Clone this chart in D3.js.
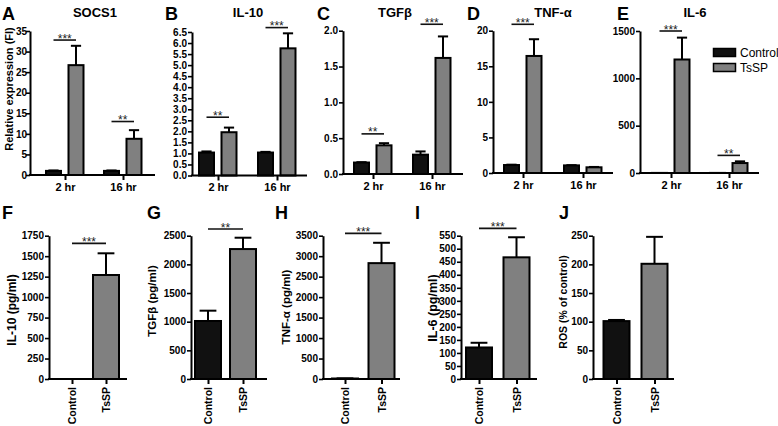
<!DOCTYPE html>
<html><head><meta charset="utf-8">
<script src="https://cdn.jsdelivr.net/npm/d3@7"></script>
<style>
body{margin:0;background:#fff;}
svg{display:block;}
</style></head><body>
<svg id="chart" width="778" height="426"></svg>
<script>
// ---------- DATA ----------
const timeCategories = ["2 hr", "16 hr"];
const groups = ["Control", "TsSP"];

// A  SOCS1 (relative expression)
const socs1Control = [1.0, 1.0];
const socs1ControlSem = [0.1, 0.1];
const socs1TsSP = [26.7, 8.8];
const socs1TsSPSem = [4.7, 2.1];
const socs1Sig = ["***", "**"];
const socs1SigLevel = [32.8, 13.0];
const socs1Ticks = [0, 5, 10, 15, 20, 25, 30, 35];

// B  IL-10 (relative expression)
const il10Control = [1.04, 1.04];
const il10ControlSem = [0.05, 0.03];
const il10TsSP = [1.96, 5.76];
const il10TsSPSem = [0.21, 0.68];
const il10Sig = ["**", "***"];
const il10SigLevel = [2.64, 6.7];
const il10Ticks = [0, 0.5, 1, 1.5, 2, 2.5, 3, 3.5, 4, 4.5, 5, 5.5, 6, 6.5];

// C  TGFβ (relative expression)
const tgfControl = [0.16, 0.27];
const tgfControlSem = [0.005, 0.045];
const tgfTsSP = [0.40, 1.62];
const tgfTsSPSem = [0.03, 0.30];
const tgfSig = ["**", "***"];
const tgfSigLevel = [0.56, 2.09];
const tgfTicks = [0, 0.5, 1.0, 1.5, 2.0];

// D  TNF-α (relative expression)
const tnfControl = [1.12, 1.07];
const tnfControlSem = [0.05, 0.03];
const tnfTsSP = [16.45, 0.8];
const tnfTsSPSem = [2.35, 0.05];
const tnfSig = ["***", null];
const tnfSigLevel = [20.9, null];
const tnfTicks = [0, 5, 10, 15, 20];

// E  IL-6 (relative expression)
const il6Control = [1, 1];
const il6ControlSem = [0, 0];
const il6TsSP = [1199, 105];
const il6TsSPSem = [231, 18];
const il6Sig = ["***", "**"];
const il6SigLevel = [1500, 186];
const il6Ticks = [0, 500, 1000, 1500];

// F  IL-10 (pg/ml)
const il10pgValues = [0, 1270];
const il10pgSem = [0, 265];
const il10pgSig = "***";
const il10pgSigLevel = 1656;
const il10pgTicks = [0, 250, 500, 750, 1000, 1250, 1500, 1750];

// G  TGFβ (pg/ml)
const tgfpgValues = [1012, 2267];
const tgfpgSem = [180, 198];
const tgfpgSig = "**";
const tgfpgSigLevel = 2616;
const tgfpgTicks = [0, 500, 1000, 1500, 2000, 2500];

// H  TNF-α (pg/ml)
const tnfpgValues = [12, 2830];
const tnfpgSem = [3, 497];
const tnfpgSig = "***";
const tnfpgSigLevel = 3557;
const tnfpgTicks = [0, 500, 1000, 1500, 2000, 2500, 3000, 3500];

// I  IL-6 (pg/ml)
const il6pgValues = [121, 467];
const il6pgSem = [18, 77];
const il6pgSig = "***";
const il6pgSigLevel = 578;
const il6pgTicks = [0, 50, 100, 150, 200, 250, 300, 350, 400, 450, 500, 550];

// J  ROS (% of control)
const rosValues = [101, 201];
const rosSem = [2, 47];
const rosSig = null;
const rosSigLevel = null;
const rosTicks = [0, 50, 100, 150, 200, 250];

// ---------- DRAWING ----------
const FONT = '"Liberation Sans", Arial, Helvetica, sans-serif';
const fillOf = {Control: "#111111", TsSP: "#808080"};
const svg = d3.select("#chart").attr("font-family", FONT);

function styleYAxis(ax) {
  ax.select(".domain").attr("stroke", "#000").attr("stroke-width", 2);
  ax.selectAll(".tick line").attr("stroke", "#000").attr("stroke-width", 1.6);
  ax.selectAll(".tick text").attr("font-size", 10).attr("font-weight", "bold")
    .attr("font-family", FONT).attr("fill", "#000");
}

function drawBars(g, rows, cx, bw, y) {
  const cap = bw * 0.6;
  const withErr = rows.filter(d => d.e > 0);
  g.selectAll(".err").data(withErr).join("line")
    .attr("x1", d => cx(d)).attr("x2", d => cx(d))
    .attr("y1", d => y(d.v)).attr("y2", d => y(d.v + d.e))
    .attr("stroke", "#000").attr("stroke-width", 2);
  g.selectAll(".cap").data(withErr).join("line")
    .attr("x1", d => cx(d) - cap / 2).attr("x2", d => cx(d) + cap / 2)
    .attr("y1", d => y(d.v + d.e)).attr("y2", d => y(d.v + d.e))
    .attr("stroke", "#000").attr("stroke-width", 2);
  g.selectAll(".bar").data(rows).join("rect")
    .attr("x", d => cx(d) - bw / 2 + 1).attr("width", bw - 2)
    .attr("y", d => y(d.v)).attr("height", d => Math.max(0, y(0) - y(d.v)))
    .attr("fill", d => fillOf[d.grp]).attr("stroke", "#000").attr("stroke-width", 2);
}

function drawSig(g, x1, x2, yy, label) {
  g.append("line").attr("x1", x1).attr("x2", x2).attr("y1", yy).attr("y2", yy)
    .attr("stroke", "#111").attr("stroke-width", 1.6);
  g.append("text").attr("x", (x1 + x2) / 2).attr("y", yy + 2.5)
    .attr("text-anchor", "middle").attr("font-size", 12).attr("fill", "#222").text(label);
}

function panelLetter(x, y, s) {
  svg.append("text").attr("x", x).attr("y", y).attr("font-size", 18)
    .attr("font-weight", "bold").attr("fill", "#000").text(s);
}

function yLabel(x, yc, s, size) {
  svg.append("text").attr("transform", `translate(${x},${yc}) rotate(-90)`)
    .attr("text-anchor", "middle").attr("dominant-baseline", "central")
    .attr("font-size", size).attr("font-weight", "bold").attr("fill", "#000").text(s);
}

function drawTop(p) {
  const g = svg.append("g");
  const y = d3.scaleLinear().domain([0, d3.max(p.ticks)]).range([p.bottom, p.top]);
  const x = d3.scalePoint().domain(timeCategories).range(p.cats);
  const off = d3.scalePoint().domain(groups).range([-11.5, 11]);
  const bw = 17;
  const rows = timeCategories.flatMap((c, i) => [
    {c, grp: "Control", v: p.control[i], e: p.controlSem[i]},
    {c, grp: "TsSP", v: p.tssp[i], e: p.tsspSem[i]}
  ]);
  drawBars(g, rows, d => x(d.c) + off(d.grp), bw, y);
  timeCategories.forEach((c, i) => {
    if (p.sig[i]) drawSig(g, x(c) + off("Control"), x(c) + off("TsSP"), y(p.sigLevel[i]), p.sig[i]);
  });
  const ya = g.append("g").attr("transform", `translate(${p.left},0)`)
    .call(d3.axisLeft(y).tickValues(p.ticks).tickFormat(p.fmt).tickSize(4).tickSizeOuter(0)
      .tickPadding(p.tickPad === undefined ? 1 : p.tickPad));
  styleYAxis(ya);
  const xa = g.append("g").attr("transform", `translate(0,${y(0)})`)
    .call(d3.axisBottom(x).tickSize(5).tickSizeOuter(0).tickPadding(3));
  xa.select(".domain").remove();
  xa.selectAll(".tick line").attr("stroke", "#000").attr("stroke-width", 2);
  xa.selectAll(".tick text").attr("font-size", 11).attr("font-weight", "bold")
    .attr("font-family", FONT).attr("fill", "#000");
  g.append("line").attr("x1", p.left - 1).attr("x2", p.xEnd).attr("y1", y(0)).attr("y2", y(0))
    .attr("stroke", "#000").attr("stroke-width", 2);
  svg.append("text").attr("x", p.titleX).attr("y", 17).attr("text-anchor", "middle")
    .attr("font-size", 13).attr("font-weight", "bold").attr("fill", "#000").text(p.title);
  panelLetter(p.letterX, 20, p.letter);
}

function drawBottom(p) {
  const g = svg.append("g");
  const y = d3.scaleLinear().domain([0, d3.max(p.ticks)]).range([379, 235.7]);
  const x = d3.scalePoint().domain(groups).range(p.cats);
  const bw = 28;
  const rows = groups.map((grp, i) => ({grp, v: p.values[i], e: p.sem[i]}));
  drawBars(g, rows, d => x(d.grp), bw, y);
  if (p.sig) drawSig(g, x("Control"), x("TsSP"), y(p.sigLevel), p.sig);
  const ya = g.append("g").attr("transform", `translate(${p.left},0)`)
    .call(d3.axisLeft(y).tickValues(p.ticks).tickFormat(d3.format("d")).tickSize(4).tickSizeOuter(0).tickPadding(1));
  styleYAxis(ya);
  const xa = g.append("g").attr("transform", `translate(0,${y(0)})`)
    .call(d3.axisBottom(x).tickSize(5).tickSizeOuter(0));
  xa.select(".domain").remove();
  xa.selectAll(".tick line").attr("stroke", "#000").attr("stroke-width", 2);
  xa.selectAll(".tick text").attr("y", 0).attr("x", -8).attr("dy", "0.35em")
    .attr("transform", "rotate(-90)").attr("text-anchor", "end")
    .attr("font-size", 10.5).attr("font-weight", "bold").attr("font-family", FONT).attr("fill", "#000");
  g.append("line").attr("x1", p.left - 1).attr("x2", p.xEnd).attr("y1", y(0)).attr("y2", y(0))
    .attr("stroke", "#000").attr("stroke-width", 2);
  yLabel(p.labelX, p.labelY, p.label, p.labelSize);
  panelLetter(p.letterX, 219, p.letter);
}

const fmt1 = d3.format(".1f"), fmt0 = d3.format("d");

drawTop({letter: "A", letterX: 2, title: "SOCS1", titleX: 95, left: 30, xEnd: 155, cats: [65, 123],
  bottom: 175, top: 31, ticks: socs1Ticks, fmt: fmt0, tickPad: -1,
  control: socs1Control, controlSem: socs1ControlSem, tssp: socs1TsSP, tsspSem: socs1TsSPSem,
  sig: socs1Sig, sigLevel: socs1SigLevel});
drawTop({letter: "B", letterX: 165, title: "IL-10", titleX: 248, left: 192, xEnd: 307, cats: [218, 277],
  bottom: 175.5, top: 32, ticks: il10Ticks, fmt: fmt1,
  control: il10Control, controlSem: il10ControlSem, tssp: il10TsSP, tsspSem: il10TsSPSem,
  sig: il10Sig, sigLevel: il10SigLevel});
drawTop({letter: "C", letterX: 317, title: "TGFβ", titleX: 395, left: 343, xEnd: 463, cats: [373, 432],
  bottom: 174, top: 30.7, ticks: tgfTicks, fmt: fmt1,
  control: tgfControl, controlSem: tgfControlSem, tssp: tgfTsSP, tsspSem: tgfTsSPSem,
  sig: tgfSig, sigLevel: tgfSigLevel});
drawTop({letter: "D", letterX: 467, title: "TNF-α", titleX: 553, left: 493, xEnd: 613, cats: [523, 583],
  bottom: 173, top: 30.7, ticks: tnfTicks, fmt: fmt0,
  control: tnfControl, controlSem: tnfControlSem, tssp: tnfTsSP, tsspSem: tnfTsSPSem,
  sig: tnfSig, sigLevel: tnfSigLevel});
drawTop({letter: "E", letterX: 617, title: "IL-6", titleX: 695, left: 640, xEnd: 759, cats: [671, 729],
  bottom: 173, top: 31, ticks: il6Ticks, fmt: fmt0,
  control: il6Control, controlSem: il6ControlSem, tssp: il6TsSP, tsspSem: il6TsSPSem,
  sig: il6Sig, sigLevel: il6SigLevel});

yLabel(9, 89, "Relative expression (FI)", 11);

// legend
const leg = svg.append("g");
groups.forEach((grp, i) => {
  leg.append("rect").attr("x", 713.5).attr("y", 48.5 + i * 15).attr("width", 22).attr("height", 8)
    .attr("fill", fillOf[grp]).attr("stroke", "#000").attr("stroke-width", 1.5);
  leg.append("text").attr("x", 740).attr("y", 57 + i * 15).attr("font-size", 12)
    .attr("fill", "#000").text(grp);
});

drawBottom({letter: "F", letterX: 2, left: 49, xEnd: 127, cats: [72, 106], ticks: il10pgTicks,
  values: il10pgValues, sem: il10pgSem, sig: il10pgSig, sigLevel: il10pgSigLevel,
  label: "IL-10 (pg/ml)", labelX: 12, labelY: 310, labelSize: 12});
drawBottom({letter: "G", letterX: 147, left: 191, xEnd: 267, cats: [208, 243], ticks: tgfpgTicks,
  values: tgfpgValues, sem: tgfpgSem, sig: tgfpgSig, sigLevel: tgfpgSigLevel,
  label: "TGFβ (pg/ml)", labelX: 152, labelY: 301, labelSize: 11.5});
drawBottom({letter: "H", letterX: 275, left: 323, xEnd: 400, cats: [345, 381.5], ticks: tnfpgTicks,
  values: tnfpgValues, sem: tnfpgSem, sig: tnfpgSig, sigLevel: tnfpgSigLevel,
  label: "TNF-α (pg/ml)", labelX: 286, labelY: 307, labelSize: 11.5});
drawBottom({letter: "I", letterX: 415, left: 461, xEnd: 537, cats: [479, 516.5], ticks: il6pgTicks,
  values: il6pgValues, sem: il6pgSem, sig: il6pgSig, sigLevel: il6pgSigLevel,
  label: "IL-6 (pg/ml)", labelX: 433, labelY: 308, labelSize: 12.5});
drawBottom({letter: "J", letterX: 559, left: 593, xEnd: 674, cats: [616.5, 654.5], ticks: rosTicks,
  values: rosValues, sem: rosSem, sig: rosSig, sigLevel: rosSigLevel,
  label: "ROS (% of control)", labelX: 563, labelY: 302, labelSize: 10.5});
</script>
</body></html>
